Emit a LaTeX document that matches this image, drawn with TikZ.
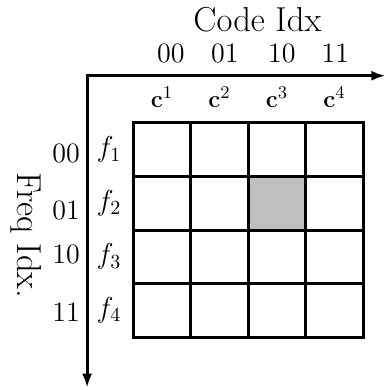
\documentclass[tikz,border=0pt]{standalone}
\usepackage{amsmath,amssymb}
\usepackage{tikz}
\usetikzlibrary{positioning,arrows.meta}
\tikzset{
  cell/.style={draw,line width=1.5pt,minimum width=1.01cm,minimum height=0.94cm,inner sep=0pt,outer sep=0pt},
  heading/.style={font=\fontsize{17.3}{21}\selectfont,inner sep=0pt},
  bits/.style={font=\fontsize{14}{17}\selectfont,inner sep=0pt},
  code/.style={font=\fontsize{13}{16}\selectfont,inner sep=0pt},
  freq/.style={font=\fontsize{14}{17}\selectfont,inner sep=0pt},
  axisarrow/.style={{Latex[length=7pt,width=5pt]}-{Latex[length=7pt,width=5pt]},line width=1.6pt},
}

\begin{document}
\begin{tikzpicture}
  \useasboundingbox (0,0) rectangle (6.78,6.85);
  % axes
  \coordinate (o) at (1.53,5.52);
  \coordinate (xend) at (6.77,5.52);
  \coordinate (yend) at (1.53,0.04);
  \draw[axisarrow] (xend) -- (o) -- (yend);
  % 4x4 grid
  \foreach \r in {1,...,4}
    \foreach \c in {1,...,4}
      \node[cell] (cell-\r-\c) at ({2.34+(\c-0.5)*1.01},{4.69-(\r-0.5)*0.94}) {};
  \node[cell,fill=black!25] (picked) at (cell-2-3) {};
  % codewords and frequencies
  \foreach \c in {1,...,4}
    \node[code,above=0.27cm of cell-1-\c] (c\c) {$\mathbf{c}^{\c}$};
  \foreach \r in {1,...,4}
    \node[freq,left=0.2cm of cell-\r-1] (f\r) {$f_{\r}$};
  % index bits
  \node[heading,anchor=base] (codeidx) at (4.52,6.29) {Code Idx};
  \node[bits,anchor=base] (b00) at (3.00,5.75) {00};
  \node[bits,anchor=base] (b01) at (3.95,5.75) {01};
  \node[bits,anchor=base] (b10) at (4.95,5.75) {10};
  \node[bits,anchor=base] (b11) at (5.89,5.75) {11};
  \node[heading,anchor=base,rotate=-90] (freqidx) at (0.30,2.72) {Freq Idx.};
  \node[bits,anchor=base east] (r00) at (1.41,3.99) {00};
  \node[bits,anchor=base east] (r01) at (1.41,2.99) {01};
  \node[bits,anchor=base east] (r10) at (1.41,2.23) {10};
  \node[bits,anchor=base east] (r11) at (1.41,1.20) {11};
\end{tikzpicture}
\end{document}
